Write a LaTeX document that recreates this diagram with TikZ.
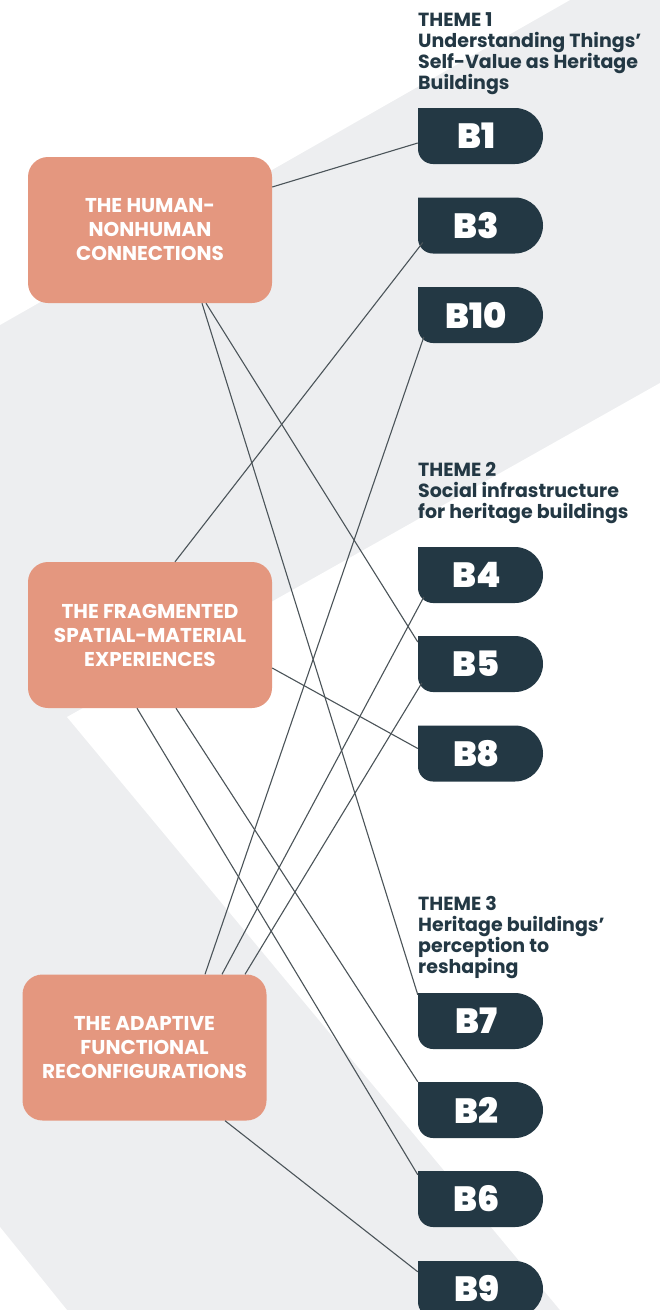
\documentclass[tikz,border=0pt]{standalone}
\usepackage{fontspec}
\setmainfont{Poppins}
\newfontfamily\heavyfont{Poppins Black}
\definecolor{salmon}{HTML}{E4977F}
\definecolor{slate}{HTML}{233844}
\definecolor{haze}{HTML}{EDEEF0}
\definecolor{wire}{HTML}{4B5459}
\begin{document}
\begin{tikzpicture}[
		x=1pt, y=1pt,
		theme/.style={anchor=north west, inner sep=0pt, align=left, text=slate, font=\bfseries\fontsize{19}{21}\selectfont},
		group/.style={rectangle, rounded corners=20pt, fill=salmon, minimum width=244pt, minimum height=146pt, align=center, text=white, font=\bfseries\fontsize{20}{24}\selectfont},
		bldg/.style={minimum width=125pt, minimum height=56pt, inner sep=0pt, text=white, font=\heavyfont\fontsize{35}{35}\selectfont},
		link/.style={draw=wire, line width=1.1pt}
	]
	\useasboundingbox (0,0) rectangle (660,-1310);
	\clip (0,0) rectangle (660,-1310);
	\fill[haze] (0,0) rectangle (660,-1310);
	\fill[white] (0,0) -- (570,0) -- (0,-325) -- cycle;
	\fill[white] (67,-717) -- (660,-383) -- (660,-1310) -- (560,-1310) -- cycle;
	\fill[white] (0,-1227) -- (67,-1310) -- (0,-1310) -- cycle;

	\node[theme] (t1) at (418,-12) {THEME 1\\Understanding Things’\\Self-Value as Heritage\\Buildings};
	\node[theme] (t2) at (418,-462) {THEME 2\\Social infrastructure\\for heritage buildings};
	\node[theme] (t3) at (418,-896) {THEME 3\\Heritage buildings’\\perception to\\reshaping};

	\node[group] (hum) at (150,-230) {THE HUMAN-\\NONHUMAN\\CONNECTIONS};
	\node[group] (frag) at (150,-635) {THE FRAGMENTED\\SPATIAL-MATERIAL\\EXPERIENCES};
	\node[group] (adapt) at (144.5,-1047.5) {THE ADAPTIVE\\FUNCTIONAL\\RECONFIGURATIONS};

	\foreach \b/\y in {B1/136, B3/225.5, B10/315, B4/575, B5/664, B8/753.5, B7/1021, B2/1110, B6/1199, B9/1289} {
		\fill[slate] (418,-\y+28) -- (515,-\y+28) arc[start angle=90, end angle=-90, radius=28] -- (433,-\y-28) arc[start angle=270, end angle=180, radius=15] -- cycle;
		\node[bldg] (\b) at (480.5,-\y) {\b\kern8pt};
	}

	\draw[link] ([yshift=43pt]hum.east) -- ([yshift=-7pt]B1.west);
	\draw[link] ([xshift=56pt]hum.south) -- ([yshift=22pt]B5.west);
	\draw[link] ([xshift=52pt]hum.south) -- ([yshift=-2pt]B7.north west);
	\draw[link] ([xshift=25pt]frag.north) -- ([xshift=5pt,yshift=-17pt]B3.west);
	\draw[link] ([yshift=-33pt]frag.east) -- ([yshift=5pt]B8.west);
	\draw[link] ([xshift=-13pt]frag.south) -- ([yshift=-4pt]B6.north west);
	\draw[link] ([xshift=26pt]frag.south) -- (B2.north west);
	\draw[link] ([xshift=60.5pt]adapt.north) -- ([xshift=6pt,yshift=-22pt]B10.west);
	\draw[link] ([xshift=77.5pt]adapt.north) -- ([xshift=6pt,yshift=-22pt]B4.west);
	\draw[link] ([xshift=100.5pt]adapt.north) -- ([xshift=4pt,yshift=-19pt]B5.west);
	\draw[link] ([xshift=80.5pt]adapt.south) -- ([yshift=-11pt]B9.north west);
\end{tikzpicture}
\end{document}
